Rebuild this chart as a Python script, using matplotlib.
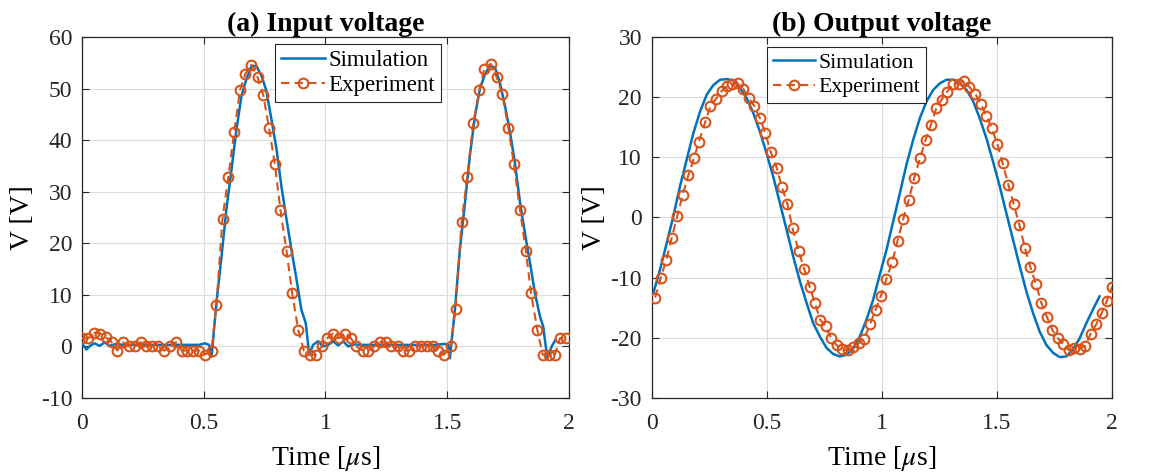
import numpy as np
import matplotlib
matplotlib.use("Agg")
import matplotlib.pyplot as plt

# ---- data ----
# (a) input voltage, experiment
t_in_exp = [0.000, 0.025, 0.049, 0.074, 0.097, 0.122, 0.145, 0.168, 0.192, 0.216,
            0.241, 0.264, 0.289, 0.314, 0.337, 0.362, 0.385, 0.410, 0.433, 0.456,
            0.481, 0.504, 0.532, 0.552, 0.577, 0.601, 0.625, 0.649, 0.671, 0.696,
            0.721, 0.744, 0.768, 0.792, 0.815, 0.840, 0.863, 0.888, 0.911, 0.936,
            0.960, 0.984, 1.007, 1.032, 1.056, 1.079, 1.104, 1.127, 1.152, 1.175,
            1.200, 1.223, 1.247, 1.271, 1.296, 1.319, 1.344, 1.367, 1.392, 1.415,
            1.440, 1.463, 1.487, 1.514, 1.534, 1.559, 1.582, 1.607, 1.632, 1.652,
            1.678, 1.703, 1.726, 1.751, 1.774, 1.799, 1.823, 1.844, 1.870, 1.892,
            1.916, 1.942, 1.963, 1.988]
v_in_exp = [1.6, 1.6, 2.6, 2.5, 1.8, 0.8, -0.8, 0.8, 0.0, 0.0,
            0.8, 0.0, 0.0, 0.0, -0.8, 0.0, 0.8, -0.8, -0.8, -0.8,
            -0.8, -1.6, -0.8, 8.1, 24.8, 32.9, 41.6, 49.7, 52.9, 54.6,
            52.2, 48.8, 42.4, 35.3, 26.4, 18.5, 10.4, 3.2, -0.8, -1.6,
            -1.6, 0.0, 1.6, 2.5, 1.6, 2.5, 1.6, 0.0, -0.8, -0.8,
            0.0, 0.8, 0.8, 0.0, 0.0, -0.8, -0.8, 0.0, 0.0, 0.0,
            0.0, -0.8, -1.6, 0.0, 7.3, 24.1, 32.9, 43.3, 49.7, 53.8,
            54.8, 52.2, 48.9, 42.4, 35.3, 26.4, 18.5, 10.4, 3.2, -1.6,
            -1.6, -1.6, 1.6, 1.6]

# (a) input voltage, simulation
t_in_sim = [0.000, 0.018, 0.035, 0.052, 0.072, 0.093, 0.113, 0.140, 0.170, 0.200,
            0.240, 0.280, 0.320, 0.360, 0.400, 0.440, 0.480, 0.505, 0.522, 0.532,
            0.552, 0.573, 0.593, 0.614, 0.634, 0.655, 0.675, 0.696, 0.716, 0.737,
            0.757, 0.778, 0.799, 0.819, 0.840, 0.860, 0.881, 0.901, 0.919, 0.933,
            0.949, 0.970, 0.990, 1.011, 1.032, 1.052, 1.073, 1.093, 1.114, 1.150,
            1.200, 1.250, 1.300, 1.350, 1.400, 1.450, 1.490, 1.505, 1.511, 1.532,
            1.552, 1.573, 1.593, 1.614, 1.634, 1.655, 1.675, 1.696, 1.716, 1.737,
            1.758, 1.778, 1.799, 1.819, 1.840, 1.860, 1.881, 1.894, 1.911, 1.929,
            1.945]
v_in_sim = [0.6, -0.6, 0.2, 0.6, 0.1, 0.8, 0.1, 0.5, 0.3, 0.3,
            0.4, 0.3, 0.3, 0.3, 0.3, 0.3, 0.3, 0.6, 0.3, -2.0,
            8.4, 17.5, 26.6, 34.3, 42.0, 48.6, 51.8, 54.4, 54.4, 52.5,
            49.6, 44.0, 38.2, 31.0, 24.6, 18.8, 13.0, 7.1, 4.5, -1.6,
            0.3, 1.0, 0.0, 0.3, 1.0, 0.2, 1.0, 0.0, 0.4, 0.3,
            0.3, 0.3, 0.3, 0.3, 0.3, 0.3, 0.5, 0.3, -2.3, 7.4,
            18.8, 27.9, 37.0, 44.7, 49.9, 52.8, 54.4, 54.1, 51.2, 46.7,
            41.5, 35.6, 27.9, 22.0, 16.2, 10.4, 5.8, 3.9, -2.3, 0.0,
            1.3]

# (b) output voltage, experiment
t_out_exp = [0.015, 0.039, 0.064, 0.087, 0.111, 0.135, 0.159, 0.184, 0.205, 0.232,
             0.255, 0.279, 0.304, 0.326, 0.349, 0.373, 0.398, 0.423, 0.446, 0.470,
             0.493, 0.517, 0.543, 0.566, 0.590, 0.612, 0.638, 0.663, 0.686, 0.709,
             0.732, 0.757, 0.780, 0.803, 0.828, 0.852, 0.876, 0.899, 0.923, 0.949,
             0.973, 0.996, 1.020, 1.045, 1.068, 1.093, 1.117, 1.140, 1.166, 1.190,
             1.213, 1.237, 1.260, 1.284, 1.310, 1.333, 1.357, 1.380, 1.405, 1.430,
             1.454, 1.478, 1.502, 1.525, 1.550, 1.573, 1.598, 1.621, 1.645, 1.669,
             1.693, 1.718, 1.741, 1.765, 1.789, 1.813, 1.836, 1.861, 1.884, 1.907,
             1.932, 1.955, 1.978, 2.000]
v_out_exp = [-13.3, -10.1, -7.0, -3.4, 0.2, 3.8, 7.0, 9.9, 12.6, 15.8,
             18.5, 19.7, 21.0, 21.8, 22.2, 22.3, 21.4, 19.8, 18.5, 16.5,
             14.1, 10.9, 8.3, 5.0, 2.2, -1.8, -5.5, -8.6, -11.5, -14.2,
             -17.0, -18.1, -20.1, -21.2, -21.9, -22.1, -21.6, -20.9, -20.2, -17.7,
             -15.3, -13.0, -10.2, -7.4, -3.9, -0.2, 2.9, 6.5, 9.9, 12.9,
             15.4, 18.2, 19.6, 20.9, 22.2, 22.2, 22.7, 21.7, 20.6, 18.9,
             16.9, 14.8, 12.2, 9.0, 5.4, 2.2, -1.3, -5.0, -8.2, -11.0,
             -14.2, -16.6, -18.7, -20.1, -21.0, -22.1, -21.7, -21.8, -21.3, -19.3,
             -17.7, -15.9, -13.8, -11.5]

# (b) output voltage, simulation
t_out_sim = [0.007, 0.036, 0.065, 0.094, 0.123, 0.152, 0.181, 0.210, 0.239, 0.268,
             0.297, 0.326, 0.355, 0.384, 0.412, 0.441, 0.470, 0.499, 0.528, 0.557,
             0.586, 0.615, 0.644, 0.673, 0.702, 0.731, 0.760, 0.789, 0.818, 0.847,
             0.876, 0.904, 0.933, 0.962, 0.991, 1.020, 1.049, 1.078, 1.107, 1.136,
             1.165, 1.194, 1.223, 1.252, 1.281, 1.310, 1.339, 1.368, 1.397, 1.425,
             1.454, 1.483, 1.512, 1.541, 1.570, 1.599, 1.628, 1.657, 1.686, 1.715,
             1.744, 1.772, 1.801, 1.830, 1.859, 1.888, 1.917, 1.946]
v_out_sim = [-12.6, -8.7, -4.3, 0.2, 5.2, 9.6, 14.0, 17.6, 20.4, 22.0,
             22.9, 23.0, 22.8, 21.5, 19.9, 17.4, 14.3, 10.7, 6.8, 2.4,
             -2.0, -6.5, -10.6, -14.2, -17.6, -19.8, -21.7, -22.7, -23.1, -22.8,
             -21.7, -19.8, -17.0, -13.7, -9.5, -5.4, -0.7, 4.0, 8.8, 12.9,
             16.5, 19.3, 21.2, 22.3, 22.9, 22.9, 22.3, 21.2, 19.3, 16.5,
             13.2, 9.3, 5.2, 0.7, -3.7, -8.1, -12.3, -15.9, -19.0, -21.2,
             -22.5, -23.2, -23.1, -22.0, -20.1, -17.6, -15.3, -13.1]

titles = ["(a) Input voltage", "(b) Output voltage"]
ylims = [(-10, 60), (-30, 30)]
yticks = [np.arange(-10, 61, 10), np.arange(-30, 31, 10)]

# ---- style ----
plt.rcParams['font.family'] = ['Liberation Serif', 'DejaVu Serif']
plt.rcParams['mathtext.fontset'] = 'stix'
blue = '#0072BD'
orange = '#D95319'

fig = plt.figure(figsize=(11.52, 4.72), dpi=100)
ax1 = fig.add_axes([0.0712, 0.1568, 0.4227, 0.7648])
ax2 = fig.add_axes([0.5657, 0.1568, 0.3996, 0.7648])

panels = [(ax1, t_in_sim, v_in_sim, t_in_exp, v_in_exp),
          (ax2, t_out_sim, v_out_sim, t_out_exp, v_out_exp)]
leg_pos = [(0.396, 0.981), (0.251, 0.972)]
leg_size = [16.5, 15.7]
ylab_x = [-0.0965, -0.097]

for i, (ax, ts, vs, te, ve) in enumerate(panels):
    ax.plot(ts, vs, color=blue, lw=1.8, label='Simulation', zorder=3)
    ax.plot(te, ve, color=orange, lw=1.5, ls=(0, (4, 2.5)), marker='o',
            ms=7, mfc='none', mec=orange, mew=1.5, label='Experiment', zorder=4)
    ax.set_xlim(0, 2)
    ax.set_ylim(*ylims[i])
    ax.set_xticks([0, 0.5, 1, 1.5, 2])
    ax.set_xticklabels(['0', '0.5', '1', '1.5', '2'])
    ax.set_yticks(yticks[i])
    ax.set_yticklabels([str(v) for v in yticks[i]])
    ax.grid(True, color='#dcdcdc', lw=0.8)
    ax.set_axisbelow(True)
    ax.tick_params(direction='in', top=True, right=True, labelsize=17,
                   length=5, width=0.8, colors='#262626')
    ax.tick_params(axis='x', pad=11)
    ax.tick_params(axis='y', pad=7)
    for s in ax.spines.values():
        s.set_color('#262626')
        s.set_linewidth(0.9)
    ax.set_title(titles[i], fontsize=20, fontweight='bold', pad=4)
    ax.set_xlabel(r'Time [$\mu$s]', fontsize=20, labelpad=7)
    ax.set_ylabel('V [V]', fontsize=20)
    ax.yaxis.set_label_coords(ylab_x[i], 0.5)
    leg = ax.legend(loc='upper left', fontsize=leg_size[i], handlelength=1.95,
                    handletextpad=0.15, borderpad=0.25, labelspacing=0.2,
                    fancybox=False, framealpha=1, borderaxespad=0,
                    bbox_to_anchor=leg_pos[i])
    leg.get_frame().set_edgecolor('#262626')
    leg.get_frame().set_linewidth(0.8)

fig.savefig('out.png', dpi=100)
